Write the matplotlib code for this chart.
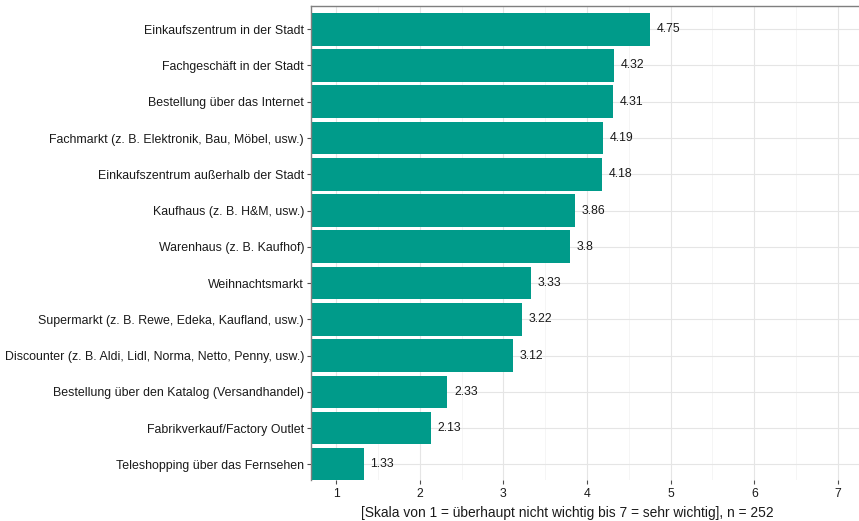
import matplotlib
matplotlib.use("Agg")
import matplotlib.pyplot as plt
import numpy as np

categories = [
    "Einkaufszentrum in der Stadt",
    "Fachgeschäft in der Stadt",
    "Bestellung über das Internet",
    "Fachmarkt (z. B. Elektronik, Bau, Möbel, usw.)",
    "Einkaufszentrum außerhalb der Stadt",
    "Kaufhaus (z. B. H&M, usw.)",
    "Warenhaus (z. B. Kaufhof)",
    "Weihnachtsmarkt",
    "Supermarkt (z. B. Rewe, Edeka, Kaufland, usw.)",
    "Discounter (z. B. Aldi, Lidl, Norma, Netto, Penny, usw.)",
    "Bestellung über den Katalog (Versandhandel)",
    "Fabrikverkauf/Factory Outlet",
    "Teleshopping über das Fernsehen",
]
values = [4.75, 4.32, 4.31, 4.19, 4.18, 3.86, 3.8, 3.33, 3.22, 3.12, 2.33, 2.13, 1.33]
xticks = [1, 2, 3, 4, 5, 6, 7]
xlabel = "[Skala von 1 = überhaupt nicht wichtig bis 7 = sehr wichtig], n = 252"

plt.rcParams['font.family'] = ['Liberation Sans', 'DejaVu Sans']

W, H = 859, 521
fig = plt.figure(figsize=(W / 100, H / 100), dpi=100)
left, right, top, bottom = 311, 863, 6, 480
ax = fig.add_axes([left / W, 1 - bottom / H, (right - left) / W, (bottom - top) / H])

pos = np.arange(1, len(categories) + 1)
ax.barh(pos, values, height=0.9, color="#009B8A", zorder=2, left=0)
for p, v in zip(pos, values):
    ax.text(v + 0.08, p, f"{v:g}", va="center", ha="left", fontsize=8.8, color="#1a1a1a", zorder=3)

ax.set_xlim(0.7, 7.3)
ax.set_ylim(13.43, 0.36)
ax.set_yticks(pos)
ax.set_yticklabels(categories, fontsize=8.9, color="#1a1a1a")
ax.set_xticks(xticks)
ax.set_xticklabels([str(t) for t in xticks], fontsize=8.8, color="#1a1a1a")
ax.set_xticks(np.arange(1.5, 7.5, 1), minor=True)
ax.grid(True, which="major", color="#e5e5e5", linewidth=0.8, zorder=0)
ax.grid(True, which="minor", axis="x", color="#f2f2f2", linewidth=0.5, zorder=0)
ax.set_axisbelow(True)
ax.tick_params(axis="y", length=3, color="#4d4d4d", pad=2)
ax.tick_params(axis="x", length=3, color="#4d4d4d", pad=3)
ax.tick_params(which="minor", length=0)
for s in ["left", "top", "right"]:
    ax.spines[s].set_color("#7f7f7f")
    ax.spines[s].set_linewidth(1)
ax.spines["bottom"].set_visible(False)
fig.text(567 / W, 1 - 513 / H, xlabel, fontsize=9.9, color="#1a1a1a", ha="center", va="center")

fig.savefig("out.png", dpi=100)
